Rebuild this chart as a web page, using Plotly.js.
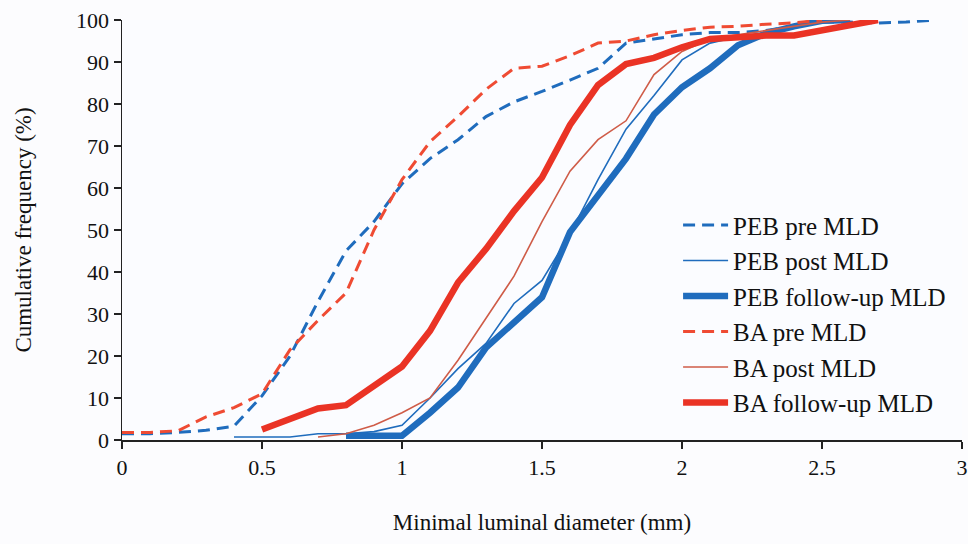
<!DOCTYPE html>
<html>
<head>
<meta charset="utf-8">
<script src="https://cdn.plot.ly/plotly-3.0.1.min.js"></script>
<style>html,body{margin:0;padding:0;background:#fff;}#chart{width:968px;height:544px;}</style>
</head>
<body>
<div id="chart"></div>
<script>
// Data
const pebPreX  = [0,0.1,0.2,0.3,0.4,0.5,0.6,0.7,0.8,0.9,1.0,1.1,1.2,1.3,1.4,1.5,1.6,1.7,1.8,1.9,2.0,2.1,2.2,2.3,2.4,2.5,2.6,2.7,2.8,2.9];
const pebPreY  = [1.5,1.5,1.8,2.3,3.3,10.5,20,33,45,52,61,67,71.5,77,80.5,83,85.7,88.5,94.5,95.5,96.5,97,97,97.5,98.5,99.5,99.5,99.3,99.5,100];

const pebPostX = [0.4,0.5,0.6,0.7,0.8,0.9,1.0,1.1,1.2,1.3,1.4,1.5,1.6,1.7,1.8,1.9,2.0,2.1,2.2,2.3,2.4,2.5,2.6];
const pebPostY = [0.7,0.7,0.7,1.5,1.5,2,3.5,10,17,23,32.5,38,49,62,74,82,90.5,94.5,96,97,98.5,99.5,100];

const pebFuX   = [0.8,0.9,1.0,1.1,1.2,1.3,1.4,1.5,1.6,1.7,1.8,1.9,2.0,2.1,2.2,2.3,2.4,2.5,2.6];
const pebFuY   = [1,1,1,6.5,12.5,22,28,34,49.5,58.5,67,77.5,84,88.5,94,96.8,98.5,99.8,100];

const baPreX   = [0,0.1,0.2,0.3,0.4,0.5,0.6,0.7,0.8,0.9,1.0,1.1,1.2,1.3,1.4,1.5,1.6,1.7,1.8,1.9,2.0,2.1,2.2,2.3,2.4,2.5];
const baPreY   = [1.8,1.8,2.2,5.5,7.7,11,21.5,28.5,35,50,62,71,77,83.5,88.5,89,91.5,94.5,95,96.5,97.5,98.3,98.5,99,99.3,100];

const baPostX  = [0.7,0.8,0.9,1.0,1.1,1.2,1.3,1.4,1.5,1.6,1.7,1.8,1.9,2.0,2.1,2.2,2.3,2.4,2.5,2.6];
const baPostY  = [0.7,1.5,3.5,6.5,10,19,29,39,52,64,71.5,76,87,92.5,95.5,96.5,97.5,98.5,99.5,100];

const baFuX    = [0.5,0.6,0.7,0.8,0.9,1.0,1.1,1.2,1.3,1.4,1.5,1.6,1.7,1.8,1.9,2.0,2.1,2.2,2.3,2.4,2.5,2.6,2.7];
const baFuY    = [2.5,5,7.5,8.3,13,17.5,26,37.5,45.5,54.5,62.5,75,84.5,89.5,91,93.5,95.5,96,96.3,96.3,97.5,98.5,100];

const seriesNames = ['PEB pre MLD','PEB post MLD','PEB follow-up MLD','BA pre MLD','BA post MLD','BA follow-up MLD'];

const xTicks = [0,0.5,1,1.5,2,2.5,3];
const xTickText = ['0','0.5','1','1.5','2','2.5','3'];
const yTicks = [0,10,20,30,40,50,60,70,80,90,100];

const BLUE = '#1f6cbd';
const RED = '#ea3325';
const RED_DASH = '#ef4b33';
const RED_THIN = '#cf5c48';
const DASH = '12px,7px';

function tr(name, x, y, color, width, dash) {
  return {x: x, y: y, name: name, type: 'scatter', mode: 'lines',
          line: {color: color, width: width, dash: dash || 'solid'}};
}

const data = [
  tr(seriesNames[0], pebPreX, pebPreY, BLUE, 3, DASH),
  tr(seriesNames[1], pebPostX, pebPostY, BLUE, 1.6),
  tr(seriesNames[2], pebFuX, pebFuY, BLUE, 6.5),
  tr(seriesNames[3], baPreX, baPreY, RED_DASH, 3, DASH),
  tr(seriesNames[4], baPostX, baPostY, RED_THIN, 1.6),
  tr(seriesNames[5], baFuX, baFuY, RED, 6.5)
];

const serif = '"Liberation Serif", "Times New Roman", "DejaVu Serif", serif';
const layout = {
  width: 968, height: 544,
  margin: {l: 122, r: 6, t: 20, b: 104},
  paper_bgcolor: '#fcfcfe',
  plot_bgcolor: '#fbfcff',
  showlegend: true,
  font: {family: serif, color: '#111', size: 20},
  xaxis: {
    range: [0, 3], tickvals: xTicks, ticktext: xTickText,
    showgrid: false, zeroline: false,
    showline: true, linecolor: '#222', linewidth: 1.5,
    ticks: 'outside', ticklen: 7, tickcolor: '#222', tickwidth: 1.5,
    tickfont: {family: serif, size: 22, color: '#111'},
    title: {text: 'Minimal luminal diameter (mm)', font: {family: serif, size: 23, color: '#111'}, standoff: 35}
  },
  yaxis: {
    range: [0, 100], tickvals: yTicks,
    showgrid: false, zeroline: false,
    showline: true, linecolor: '#222', linewidth: 1.5,
    ticks: 'outside', ticklen: 7, tickcolor: '#222', tickwidth: 1.5,
    tickfont: {family: serif, size: 22, color: '#111'},
    title: {text: 'Cumulative frequency (%)', font: {family: serif, size: 23, color: '#111'}, standoff: 38}
  },
  legend: {
    x: 0.662, y: 0.566, xanchor: 'left', yanchor: 'top',
    bgcolor: 'rgba(0,0,0,0)',
    font: {family: serif, size: 25, color: '#111'},
    itemwidth: 45,
    traceorder: 'normal'
  }
};

Plotly.newPlot('chart', data, layout, {displayModeBar: false, staticPlot: true});
</script>
</body>
</html>
